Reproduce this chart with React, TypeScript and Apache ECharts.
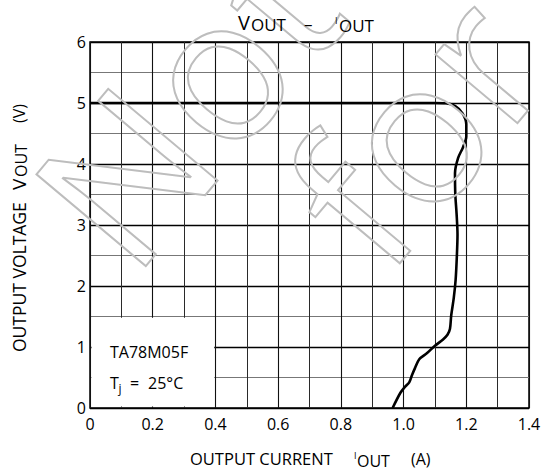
import React, { useEffect, useRef } from 'react';
import * as echarts from 'echarts';

// Output current (A) along the curve
const currentA = [0, 1.10, 1.135, 1.165, 1.188, 1.200, 1.200, 1.190, 1.174, 1.164, 1.165, 1.169, 1.172, 1.170, 1.166, 1.160, 1.152, 1.148, 1.140, 1.125, 1.100, 1.075, 1.050, 1.036, 1.027, 1.018, 1.005, 0.990, 0.965];
// Output voltage (V) along the curve
const voltageV = [5.0, 5.0, 4.995, 4.95, 4.83, 4.65, 4.45, 4.28, 4.10, 3.85, 3.50, 3.19, 2.84, 2.50, 2.10, 1.80, 1.52, 1.30, 1.20, 1.12, 1.02, 0.90, 0.80, 0.65, 0.54, 0.42, 0.35, 0.25, 0.0];

const xMin = 0, xMax = 1.4, xStep = 0.2;
const yMin = 0, yMax = 6, yStep = 1;
const noteBoxX = [0, 0.4];
const noteBoxY = [0, 1.5];

const FONT = '"Open Sans", "DejaVu Sans", sans-serif';

function txt(text: string, x: number, y: number, size: number, extra: any = {}) {
  return {
    type: 'text',
    x, y, z: 100,
    style: {
      text, fill: '#000', fontSize: size, fontFamily: FONT,
      align: 'left', verticalAlign: 'middle',
      textAlign: 'left', textVerticalAlign: 'middle',
    },
    ...extra,
  };
}

function lt(text: string, x: number, y: number, size: number) {
  return {
    type: 'text', x, y,
    style: { text, fill: '#000', fontSize: size, fontFamily: FONT, align: 'left', verticalAlign: 'middle', textAlign: 'left', textVerticalAlign: 'middle' },
  };
}

function watermark(text: string, x: number, y: number) {
  return {
    type: 'text', x, y, z: 90, rotation: (50 * Math.PI) / 180, silent: true,
    style: {
      text, fill: 'none', stroke: '#bdbdbd', lineWidth: 2,
      fontSize: 200, fontFamily: FONT,
      align: 'center', verticalAlign: 'middle', textAlign: 'center', textVerticalAlign: 'middle',
    },
  };
}

export default function App() {
  const ref = useRef<HTMLDivElement>(null);
  useEffect(() => {
    if (!ref.current) return;
    const chart = echarts.init(ref.current, null, { renderer: 'svg' });
    const data = currentA.map((c, i) => [c, voltageV[i]]);
    const dx = (xMax - xMin) / 440;
    const dy = (yMax - yMin) / 366;
    chart.setOption({
      animation: false,
      backgroundColor: '#fff',
      grid: { left: 90, right: 15, top: 42, bottom: 62, show: true, borderColor: '#000', borderWidth: 1.5, backgroundColor: 'transparent' },
      xAxis: {
        type: 'value', min: xMin, max: xMax, interval: xStep,
        axisLine: { show: false }, axisTick: { show: false },
        splitLine: { show: true, lineStyle: { color: '#111', width: 1.1 } },
        minorTick: { show: false, splitNumber: 2 },
        minorSplitLine: { show: true, lineStyle: { color: '#2a2a2a', width: 1 } },
        axisLabel: {
          color: '#000', fontFamily: FONT, fontSize: 16, margin: 8,
          formatter: (v: number) => (v === 0 ? '0' : v.toFixed(1)),
        },
      },
      yAxis: {
        type: 'value', min: yMin, max: yMax, interval: yStep,
        axisLine: { show: false }, axisTick: { show: false },
        splitLine: { show: true, lineStyle: { color: '#000', width: 1.3 } },
        minorSplitLine: { show: true, lineStyle: { color: '#777', width: 1 } },
        minorTick: { show: false, splitNumber: 2 },
        axisLabel: { color: '#000', fontFamily: FONT, fontSize: 16, margin: 4, padding: [6, 0, 0, 0] },
      },
      series: [
        {
          type: 'line', data, showSymbol: false, smooth: 0.3,
          lineStyle: { color: '#000', width: 2.6 },
          markArea: {
            silent: true,
            itemStyle: { color: '#fff', opacity: 1 },
            label: { show: false },
            data: [[
              { coord: [noteBoxX[0] + 1.5 * dx, noteBoxY[0] + 1.5 * dy] },
              { coord: [noteBoxX[1] - 1.2 * dx, noteBoxY[1] - 1.2 * dy] },
            ]],
          },
        },
      ],
      graphic: [
        watermark('Not', 184, 100),
        watermark('for', 413, 127),
        // title
        txt('V', 238, 22, 20),
        txt('OUT', 251, 24.5, 17),
        txt('–', 304, 23.5, 17),
        txt('I', 335, 20, 9),
        txt('OUT', 339, 25, 17),
        // x axis name
        txt('OUTPUT CURRENT', 190, 458, 16.5),
        txt('I', 354, 455, 9),
        txt('OUT', 357, 461, 16),
        txt('(A)', 411, 459, 16),
        // y axis name
        {
          type: 'group', x: 19, y: 352, rotation: Math.PI / 2, z: 100,
          children: [
            lt('OUTPUT VOLTAGE', 0, 0, 17.5),
            lt('V', 162, 0, 19),
            lt('OUT', 175, 2, 16),
            lt('(V)', 229, 0, 16),
          ],
        },
        // note box
        txt('TA78M05F', 110, 352, 16),
        txt('T', 110, 382.5, 16),
        txt('j', 118.5, 388, 12),
        txt('=', 130, 383, 16),
        txt('25°C', 148, 382.5, 16),
      ],
    });
    return () => chart.dispose();
  }, []);
  return <div ref={ref} style={{ position: 'fixed', left: 0, top: 0, width: 544, height: 470 }} />;
}
